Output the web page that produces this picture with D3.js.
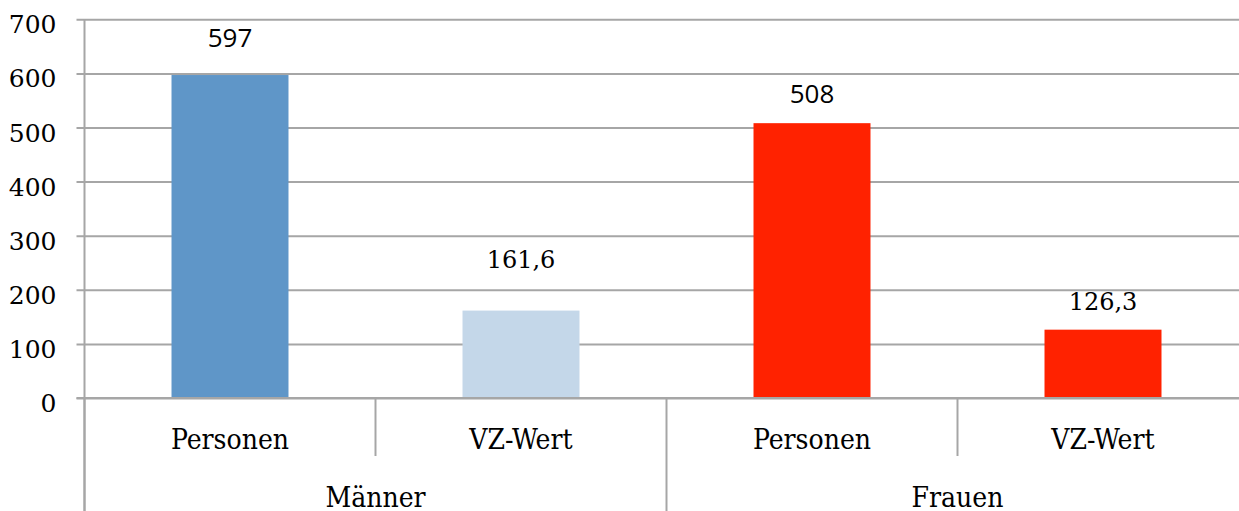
<!DOCTYPE html>
<html lang="de">
<head>
<meta charset="utf-8">
<script src="https://cdn.jsdelivr.net/npm/d3@7"></script>
<style>
  html, body { margin: 0; padding: 0; background: #fff; overflow: hidden; }
  svg { display: block; }
  .cat { font-family: 'DejaVu Serif Condensed', 'DejaVu Serif', serif; font-stretch: condensed; font-size: 28px; }
</style>
</head>
<body>
<svg id="chart" width="1239" height="511"></svg>
<script>
// Data
const groups = ["Männer", "Frauen"];
const measures = ["Personen", "VZ-Wert"];
const maennerValues = [597, 161.6];
const frauenValues = [508, 126.3];
const yTicks = [0, 100, 200, 300, 400, 500, 600, 700];

const rows = [];
[maennerValues, frauenValues].forEach((vals, gi) => {
  measures.forEach((m, mi) => {
    rows.push({ group: groups[gi], measure: m, key: groups[gi] + "|" + m, value: vals[mi] });
  });
});

// Styling
const barColors = ["#5f96c8", "#c4d7e9", "#ff2200", "#ff2200"];
const labelSans = [true, false, true, false];   // value labels alternate between two faces
const labelGap = [28, 43, 20, 20];              // distance from bar top to label baseline
const serif = "'DejaVu Serif', serif";
const sans = "'Open Sans', sans-serif";
const gridColor = "#a6a6a6";

const svg = d3.select("#chart");
const plotLeft = 84.5, plotRight = 1248.5, plotTop = 19.3, plotBase = 398;

const x = d3.scaleBand()
  .domain(rows.map(d => d.key))
  .range([plotLeft, plotRight])
  .paddingInner(0.598)
  .paddingOuter(0.299);

const xGroup = d3.scaleBand().domain(groups).range([plotLeft, plotRight]);

const y = d3.scaleLinear().domain([0, 700]).range([plotBase, plotTop]);

const de = d3.formatLocale({ decimal: ",", thousands: ".", grouping: [3], currency: ["", " €"] });
const fmt = v => Number.isInteger(v) ? de.format("d")(v) : de.format(".1f")(v);

// Gridlines + y axis
const yAxis = d3.axisLeft(y).tickValues(yTicks).tickSize(-(plotRight - plotLeft)).tickPadding(0).tickFormat("");
const yg = svg.append("g").attr("transform", `translate(${plotLeft},0)`).call(yAxis);
yg.select(".domain").remove();
yg.selectAll(".tick line").attr("stroke", gridColor).attr("stroke-width", 2).attr("x1", -8);

yg.selectAll(".tick").append("text")
  .attr("x", -28)
  .attr("y", 13.5)
  .attr("text-anchor", "end")
  .attr("fill", "#000")
  .style("font-family", serif)
  .style("font-size", "25px")
  .text(d => d);

// Bars
svg.append("g").selectAll("rect")
  .data(rows)
  .join("rect")
  .attr("x", d => x(d.key))
  .attr("width", x.bandwidth())
  .attr("y", d => y(d.value))
  .attr("height", d => y(0) - y(d.value))
  .attr("fill", (d, i) => barColors[i]);

// Baseline redrawn on top of bars
svg.append("line")
  .attr("x1", plotLeft - 8).attr("x2", plotRight)
  .attr("y1", plotBase).attr("y2", plotBase)
  .attr("stroke", gridColor).attr("stroke-width", 2);

// Value labels
svg.append("g").selectAll("text")
  .data(rows)
  .join("text")
  .attr("x", d => x(d.key) + x.bandwidth() / 2)
  .attr("y", (d, i) => y(d.value) - labelGap[i])
  .attr("text-anchor", "middle")
  .style("font-family", (d, i) => labelSans[i] ? sans : serif)
  .style("font-size", (d, i) => labelSans[i] ? "26px" : "24px")
  .attr("fill", "#000")
  .text(d => fmt(d.value));

// Vertical axis line
svg.append("line")
  .attr("x1", plotLeft).attr("x2", plotLeft)
  .attr("y1", plotTop).attr("y2", 511)
  .attr("stroke", gridColor).attr("stroke-width", 2);

// Category dividers: short between measures, long between groups
const step = x.step();
const bounds = d3.range(rows.length + 1).map(i => plotLeft + i * step);
svg.append("g").selectAll("line")
  .data(bounds)
  .join("line")
  .attr("x1", d => d).attr("x2", d => d)
  .attr("y1", plotBase)
  .attr("y2", (d, i) => i % 2 === 0 ? 511 : 456)
  .attr("stroke", gridColor).attr("stroke-width", 2);

// Measure labels
svg.append("g").selectAll("text")
  .data(rows)
  .join("text")
  .attr("class", "cat")
  .attr("x", d => x(d.key) + x.bandwidth() / 2)
  .attr("y", 449)
  .attr("text-anchor", "middle")
  .attr("fill", "#000")
  .text(d => d.measure);

// Group labels
svg.append("g").selectAll("text")
  .data(groups)
  .join("text")
  .attr("class", "cat")
  .attr("x", d => xGroup(d) + xGroup.bandwidth() / 2)
  .attr("y", 507)
  .attr("text-anchor", "middle")
  .attr("fill", "#000")
  .text(d => d);
</script>
</body>
</html>
